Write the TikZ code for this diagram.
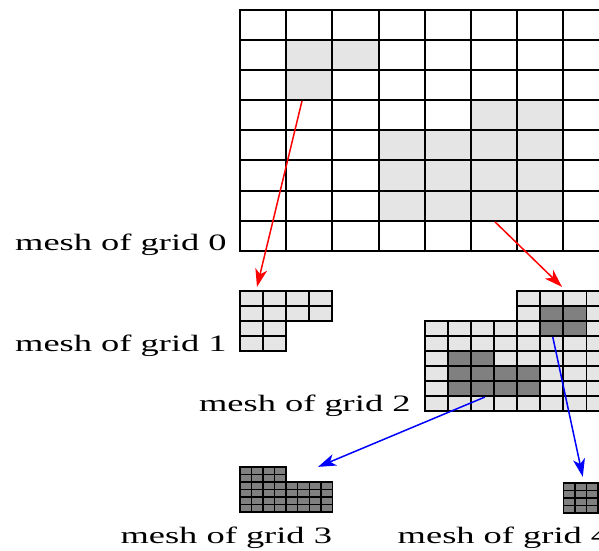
\documentclass[tikz,border=0pt]{standalone}
\usepackage{fontspec}
\setmainfont{Liberation Serif}
\usetikzlibrary{arrows.meta}
\newcommand{\meshfont}{\fontsize{11.75pt}{14pt}\selectfont}
\newcommand{\meshlabel}[1]{\scalebox{1.55}[1]{#1}}

\begin{document}
\begin{tikzpicture}[
  x=23.1pt, y=-15.05pt,
  coarse/.style={draw=black, line width=1pt},
  fine/.style={draw=black, line width=0.9pt, fill=black!10},
  hot/.style={draw=black, line width=0.9pt, fill=black!50},
  tiny/.style={draw=black, line width=0.7pt, fill=black!50},
  lbl/.style={anchor=base east, inner sep=0pt, font=\meshfont},
  refarr/.style={-{Stealth[length=9pt, width=6pt, inset=2.5pt]}, line width=0.75pt}
]
\useasboundingbox (-5.195,-0.332) rectangle (7.771,17.973);
\clip (-5.195,-0.332) rectangle (7.771,17.973);

% Grid 0 (coarse)
\foreach \c/\r in {1/1,2/1,1/2,5/3,6/3}
  \fill[black!10] (\c,\r) rectangle ++(1,1);
\fill[black!10] (3,4) rectangle (7,7);
\foreach \c in {0,...,7}
  \foreach \r in {0,...,7}
    \draw[coarse] (\c,\r) rectangle ++(1,1);

% Grid 1
\begin{scope}[shift={(0,9.335)}, scale=0.5]
  \foreach \r/\n in {0/3,1/3,2/1,3/1}
    \foreach \c in {0,...,\n}
      \draw[fine] (\c,\r) rectangle ++(1,1);
\end{scope}

% Grid 2
\begin{scope}[shift={(4,9.335)}, scale=0.5]
  \foreach \r/\m in {0/4,1/4,2/0,3/0,4/0,5/0,6/0,7/0}
    \foreach \c in {\m,...,7}
      \draw[fine] (\c,\r) rectangle ++(1,1);
  \foreach \c/\r in {5/1,6/1,5/2,6/2,1/4,2/4,1/5,2/5,3/5,4/5,1/6,2/6,3/6,4/6}
    \draw[hot] (\c,\r) rectangle ++(1,1);
\end{scope}

% Grid 3
\begin{scope}[shift={(0,15.18)}, scale=0.25]
  \foreach \r/\n in {0/3,1/3,2/7,3/7,4/7,5/7}
    \foreach \c in {0,...,\n}
      \draw[tiny] (\c,\r) rectangle ++(1,1);
\end{scope}

% Grid 4
\begin{scope}[shift={(7,15.71)}, scale=0.25]
  \foreach \r in {0,...,3}
    \foreach \c in {0,...,3}
      \draw[tiny] (\c,\r) rectangle ++(1,1);
\end{scope}

% Labels
\node[lbl] (lab0) at (-0.28,8) {\meshlabel{mesh of grid 0}};
\node[lbl] (lab1) at (-0.28,11.335) {\meshlabel{mesh of grid 1}};
\node[lbl] (lab2) at (3.70,13.335) {\meshlabel{mesh of grid 2}};
\node[lbl] (lab3) at (2,17.74) {\meshlabel{mesh of grid 3}};
\node[lbl] (lab4) at (8,17.74) {\meshlabel{mesh of grid 4}};

% Refinement arrows
\coordinate (from01) at (1.342,3.023);
\coordinate (to01) at (0.368,9.20);
\coordinate (from02) at (5.52,7.04);
\coordinate (to02) at (6.97,9.20);
\coordinate (from23) at (5.30,12.86);
\coordinate (to23) at (1.69,15.18);
\coordinate (from24) at (6.77,10.86);
\coordinate (to24) at (7.42,15.51);

\draw[refarr, red] (from01) -- (to01);
\draw[refarr, red] (from02) -- (to02);
\draw[refarr, blue] (from23) -- (to23);
\draw[refarr, blue] (from24) -- (to24);
\end{tikzpicture}
\end{document}
